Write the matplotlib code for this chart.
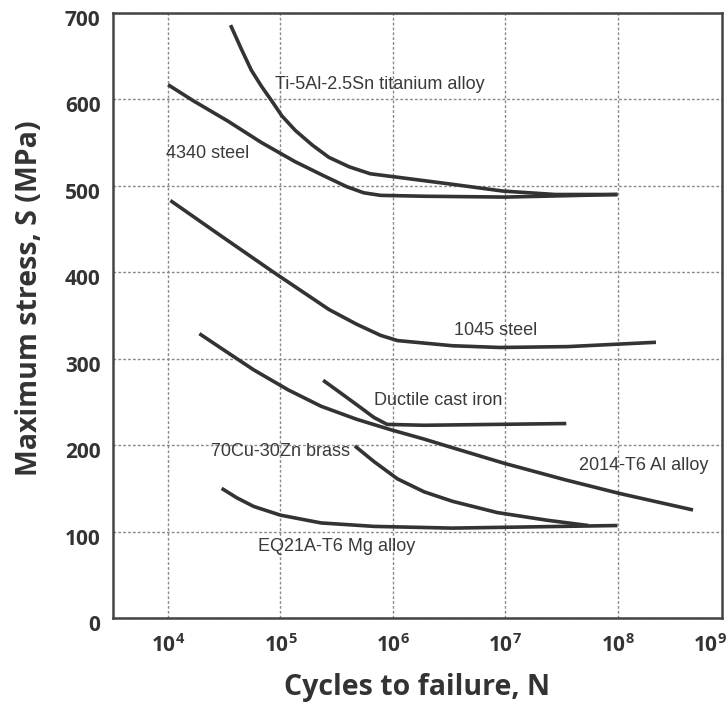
import matplotlib
matplotlib.use('Agg')
import matplotlib.pyplot as plt
import matplotlib.transforms as mtransforms

plt.rcParams['font.family'] = ['Liberation Sans', 'DejaVu Sans']
plt.rcParams['mathtext.fontset'] = 'custom'
plt.rcParams['mathtext.bf'] = 'Open Sans:bold'
plt.rcParams['mathtext.rm'] = 'Open Sans:bold'

# S-N data (cycles, MPa)
ti_n = [3.6e4, 4.5e4, 5.5e4, 6.8e4, 8.4e4, 1.03e5, 1.36e5, 1.93e5, 2.7e5, 4.1e5,
        6.3e5, 1.1e6, 1.9e6, 3.3e6, 9.5e6, 2.8e7, 1e8]
ti_s = [686, 658, 634, 615, 598, 581, 564, 547, 533, 522, 514, 510, 506, 502, 494, 490, 490]
s4340_n = [1e4, 1.7e4, 3.4e4, 6.8e4, 1.35e5, 2.4e5, 3.9e5, 5.5e5, 7.8e5, 1.9e6, 1e7, 1e8]
s4340_s = [617, 598, 575, 550, 528, 512, 499, 492, 489, 488, 487, 490]
s1045_n = [1.05e4, 2.75e4, 8.7e4, 2.7e5, 4.75e5, 7.8e5, 1.1e6, 3.4e6, 9e6, 3.6e7, 2.2e8]
s1045_s = [483, 445, 400, 357, 340, 327, 321, 315, 313, 314, 319]
al_n = [1.9e4, 2.9e4, 5.8e4, 1.17e5, 2.3e5, 4.75e5, 9.5e5, 1.9e6, 3.4e6, 9.8e6, 3.4e7,
        1.05e8, 4.7e8]
al_s = [329, 313, 287, 264, 245, 230, 218, 207, 197, 179, 160, 144, 125]
iron_n = [2.4e5, 3.3e5, 4.75e5, 6.8e5, 8.9e5, 1.9e6, 3.5e7]
iron_s = [275, 262, 247, 232, 224, 223, 225]
brass_n = [4.6e5, 6.8e5, 1.1e6, 1.9e6, 3.4e6, 8.5e6, 2.4e7, 5.5e7]
brass_s = [199, 181, 161, 146, 135, 122, 113, 107]
mg_n = [3.0e4, 4.1e4, 5.8e4, 1e5, 2.3e5, 6.8e5, 3.4e6, 1e8]
mg_s = [150, 139, 129, 119, 110, 106, 104, 107]

curves = [(ti_n, ti_s), (s4340_n, s4340_s), (s1045_n, s1045_s), (al_n, al_s),
          (iron_n, iron_s), (brass_n, brass_s), (mg_n, mg_s)]

# labels: text, N (left edge), S (centre)
labels = [('Ti-5Al-2.5Sn titanium alloy', 9.0e4, 617),
          ('4340 steel', 9.5e3, 538),
          ('1045 steel', 3.5e6, 333),
          ('Ductile cast iron', 6.8e5, 252),
          ('70Cu-30Zn brass', 2.4e4, 193),
          ('2014-T6 Al alloy', 4.5e7, 176),
          ('EQ21A-T6 Mg alloy', 6.3e4, 83)]

x_ticks = [1e4, 1e5, 1e6, 1e7, 1e8]
x_ticklabels = [r'$\mathbf{10^{%d}}$' % e for e in range(4, 9)]
y_ticks = [0, 100, 200, 300, 400, 500, 600, 700]

W, H = 728, 706
fig = plt.figure(figsize=(W / 100, H / 100), dpi=100)
ax = fig.add_axes([113 / W, 1 - 618 / H, (722 - 113) / W, (618 - 13) / H])

for n, s in curves:
    ax.plot(n, s, color='#333333', lw=2.6, solid_capstyle='butt', solid_joinstyle='round')

for txt, n, s in labels:
    ax.text(n, s, txt, fontsize=13, color='#3a3a3a', ha='left', va='center')

ax.set_xscale('log')
ax.set_xlim(10 ** 3.51, 10 ** 8.93)
ax.set_ylim(0, 700)
ax.set_xticks(x_ticks)
ax.set_xticklabels(x_ticklabels, fontsize=15, color='#333333')
ax.xaxis.set_minor_locator(matplotlib.ticker.NullLocator())
ax.set_yticks(y_ticks)
ax.set_yticklabels([str(v) for v in y_ticks], fontsize=15, fontweight='bold',
                   family='Open Sans', color='#333333')
ax.tick_params(length=0)
ax.tick_params(axis='x', pad=11)
ax.tick_params(axis='y', pad=9)
shift = mtransforms.ScaledTranslation(0, -5 / 100, fig.dpi_scale_trans)
for lab in ax.get_yticklabels():
    lab.set_transform(lab.get_transform() + shift)
ax.grid(True, color='#8a8a8a', lw=1.0, ls=(0, (2, 1.5)))
for sp in ax.spines.values():
    sp.set_color('#444444')
    sp.set_linewidth(1.8)

# 10^9 sits just past the right edge of the axes
ax.annotate(r'$\mathbf{10^{9}}$', xy=(1.0, 0), xycoords='axes fraction',
            xytext=(3.5, -11), textcoords='offset points', fontsize=15,
            color='#333333', ha='right', va='top', annotation_clip=False)

fig.text(30 / W, 1 - 298 / H, 'Maximum stress, S (MPa)', rotation=90,
         ha='center', va='center', fontsize=20.5, fontweight='bold',
         family='Open Sans', color='#333333')
fig.text(417 / W, 1 - 688 / H, 'Cycles to failure, N', ha='center', va='center',
         fontsize=20.5, fontweight='bold', family='Open Sans', color='#333333')

fig.savefig('out.png', dpi=100)
